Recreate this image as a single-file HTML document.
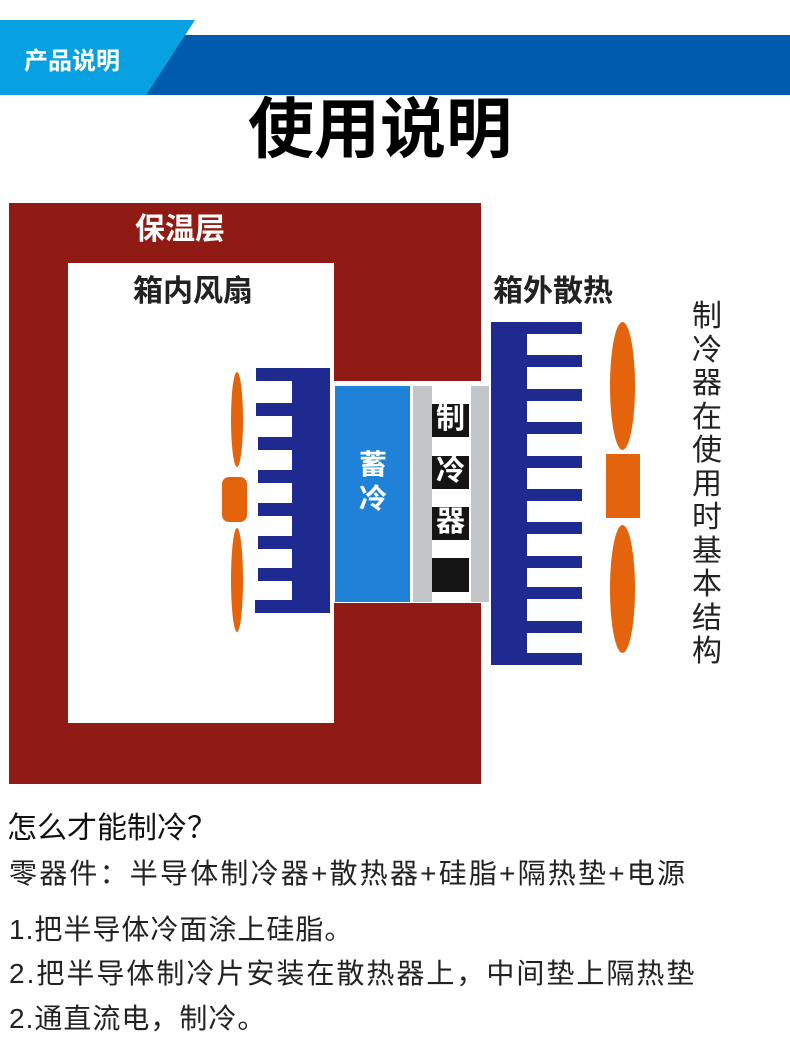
<!DOCTYPE html>
<html><head><meta charset="utf-8"><style>
body{margin:0;width:790px;height:1051px;position:relative;background:#fff;overflow:hidden;font-family:"Liberation Sans","Noto Sans CJK SC",sans-serif}
.a{position:absolute}
.t{position:absolute;white-space:nowrap;line-height:1}
</style></head><body>
<!-- header -->
<div class="a" style="left:0;top:35px;width:790px;height:60px;background:#005aad"></div>
<div class="a" style="left:0;top:20px;width:195px;height:75px;background:#07a0e0;clip-path:polygon(0 0,100% 0,75% 100%,0 100%)"></div>
<div class="t" style="left:24px;top:50px;font-size:24px;font-weight:bold;color:#fff">产品说明</div>
<div class="t" style="left:0;width:760px;text-align:center;top:96px;font-size:66px;font-weight:bold;color:#000">使用说明</div>

<!-- insulation -->
<div class="a" style="left:9px;top:203px;width:472px;height:581px;background:#8f1b14"></div>
<div class="a" style="left:68px;top:263px;width:266px;height:460px;background:#fff"></div>
<div class="a" style="left:334px;top:381px;width:147px;height:222px;background:#fff"></div>
<div class="t" style="left:135px;top:215px;font-size:30px;font-weight:bold;color:#fff">保温层</div>
<div class="t" style="left:133px;top:277px;font-size:30px;font-weight:bold;color:#222">箱内风扇</div>
<div class="t" style="left:493px;top:277px;font-size:30px;font-weight:bold;color:#222">箱外散热</div>

<!-- left heatsink -->
<div class="a" style="left:292px;top:368px;width:38px;height:245px;background:#1e2a8f"></div>
<div class="a" style="left:256px;top:368px;width:40px;height:13px;background:#1e2a8f"></div>
<div class="a" style="left:256px;top:403px;width:40px;height:13px;background:#1e2a8f"></div>
<div class="a" style="left:258px;top:437px;width:38px;height:13px;background:#1e2a8f"></div>
<div class="a" style="left:258px;top:470px;width:38px;height:13px;background:#1e2a8f"></div>
<div class="a" style="left:258px;top:503px;width:38px;height:13px;background:#1e2a8f"></div>
<div class="a" style="left:258px;top:536px;width:38px;height:13px;background:#1e2a8f"></div>
<div class="a" style="left:258px;top:568px;width:38px;height:13px;background:#1e2a8f"></div>
<div class="a" style="left:255px;top:600px;width:40px;height:13px;background:#1e2a8f"></div>

<!-- left fan -->
<div class="a" style="left:231px;top:372px;width:12px;height:95px;border-radius:50%;background:#e4640e"></div>
<div class="a" style="left:231px;top:528px;width:12px;height:104px;border-radius:50%;background:#e4640e"></div>
<div class="a" style="left:222px;top:477px;width:25px;height:45px;border-radius:7px;background:#e4640e"></div>

<!-- storage + cooler -->
<div class="a" style="left:335px;top:386px;width:75px;height:216px;background:#1f82d8"></div>
<div class="t" style="left:350px;top:448px;font-size:28px;font-weight:bold;color:#fff;line-height:34px;width:46px;text-align:center">蓄<br>冷</div>
<div class="a" style="left:413px;top:386px;width:19px;height:216px;background:#c3c6c9"></div>
<div class="a" style="left:471px;top:386px;width:18px;height:216px;background:#c3c6c9"></div>
<div class="a" style="left:432px;top:404px;width:37px;height:33px;background:#141414"></div>
<div class="a" style="left:432px;top:456px;width:37px;height:33px;background:#141414"></div>
<div class="a" style="left:432px;top:507px;width:37px;height:33px;background:#141414"></div>
<div class="a" style="left:432px;top:558px;width:37px;height:34px;background:#141414"></div>
<div class="t" style="left:432px;top:405px;width:37px;text-align:center;font-size:29px;font-weight:bold;color:#fff">制</div>
<div class="t" style="left:432px;top:457px;width:37px;text-align:center;font-size:29px;font-weight:bold;color:#fff">冷</div>
<div class="t" style="left:432px;top:508px;width:37px;text-align:center;font-size:29px;font-weight:bold;color:#fff">器</div>

<!-- right heatsink -->
<div class="a" style="left:491px;top:322px;width:36px;height:343px;background:#1e2a8f"></div>
<div class="a" style="left:491px;top:322px;width:91px;height:12px;background:#1e2a8f"></div>
<div class="a" style="left:527px;top:355px;width:55px;height:12px;background:#1e2a8f"></div>
<div class="a" style="left:527px;top:389px;width:55px;height:12px;background:#1e2a8f"></div>
<div class="a" style="left:527px;top:422px;width:55px;height:12px;background:#1e2a8f"></div>
<div class="a" style="left:527px;top:456px;width:55px;height:12px;background:#1e2a8f"></div>
<div class="a" style="left:527px;top:489px;width:55px;height:12px;background:#1e2a8f"></div>
<div class="a" style="left:527px;top:522px;width:55px;height:12px;background:#1e2a8f"></div>
<div class="a" style="left:527px;top:556px;width:55px;height:12px;background:#1e2a8f"></div>
<div class="a" style="left:527px;top:587px;width:55px;height:12px;background:#1e2a8f"></div>
<div class="a" style="left:527px;top:621px;width:55px;height:12px;background:#1e2a8f"></div>
<div class="a" style="left:491px;top:653px;width:91px;height:12px;background:#1e2a8f"></div>

<!-- right fan -->
<div class="a" style="left:610px;top:322px;width:25px;height:128px;border-radius:50%;background:#e4640e"></div>
<div class="a" style="left:610px;top:525px;width:25px;height:128px;border-radius:50%;background:#e4640e"></div>
<div class="a" style="left:606px;top:454px;width:34px;height:64px;background:#e4640e"></div>

<!-- vertical label -->
<div class="t" style="left:690px;top:300px;width:34px;text-align:center;font-size:30px;line-height:33.5px;color:#222;white-space:normal">制冷器在使用时基本结构</div>

<!-- bottom text -->
<div class="t" style="left:7px;top:814px;font-size:30px;color:#111">怎么才能制冷？</div>
<div class="t" style="left:9px;top:860px;font-size:28px;color:#222;letter-spacing:2.2px">零器件：半导体制冷器+散热器+硅脂+隔热垫+电源</div>
<div class="t" style="left:9px;top:916px;font-size:28px;color:#222;letter-spacing:1px">1.把半导体冷面涂上硅脂。</div>
<div class="t" style="left:9px;top:960px;font-size:28px;color:#222;letter-spacing:2px">2.把半导体制冷片安装在散热器上，中间垫上隔热垫</div>
<div class="t" style="left:9px;top:1005px;font-size:28px;color:#222;letter-spacing:1px">2.通直流电，制冷。</div>
</body></html>
